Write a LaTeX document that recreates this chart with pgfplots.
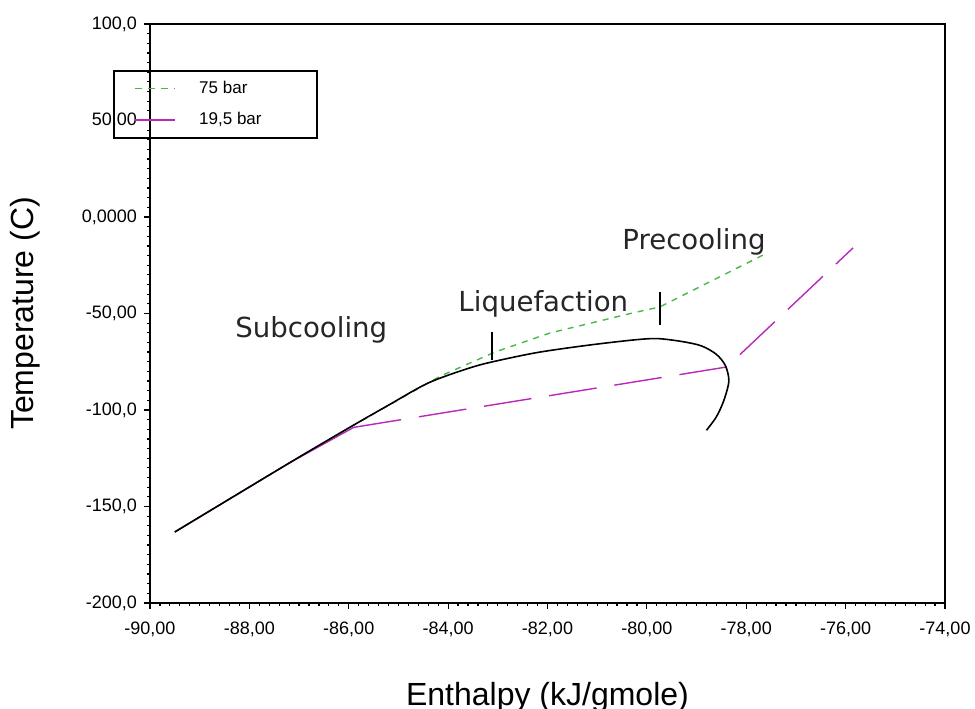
\documentclass[border=0pt]{standalone}
\usepackage{pgfplots}
\pgfplotsset{compat=1.18}
\usepackage{fontspec}
\setmainfont{Liberation Sans}
\newfontfamily\notefont{DejaVu Sans}
\definecolor{p75}{RGB}{70,185,70}
\definecolor{p19}{RGB}{185,40,185}

\begin{document}
\begin{tikzpicture}
\begin{axis}[
  scale only axis, width=397.5pt, height=289.5pt,
  xmin=-90, xmax=-74, ymin=-200, ymax=100,
  axis line style={line width=0.8pt},
  xtick={-90,-88,...,-74},
  xticklabels={{-90,00},{-88,00},{-86,00},{-84,00},{-82,00},{-80,00},{-78,00},{-76,00},{-74,00}},
  ytick={-200,-150,...,100},
  yticklabels={{-200,0},{-150,0},{-100,0},{-50,00},{0,0000},{50,00},{100,0}},
  minor x tick num=9, minor y tick num=9,
  tick align=outside, tick pos=left,
  major tick length=3pt, minor tick length=1.5pt,
  tick style={black, line width=0.6pt},
  ticklabel style={font=\fontsize{9}{10}\selectfont},
  xticklabel style={yshift=-3pt},
  xlabel={Enthalpy (kJ/gmole)}, ylabel={Temperature (C)},
  label style={font=\fontsize{16}{19}\selectfont},
  xlabel style={at={(axis description cs:0.5,-0.1762)}, anchor=base},
  ylabel style={at={(axis description cs:-0.1572,0.5)}, anchor=center},
  legend style={at={(axis description cs:-0.0465,0.92)}, anchor=north west,
    draw=black, line width=0.8pt, fill=none, inner xsep=10pt, inner ysep=3pt,
    row sep=4pt, font=\fontsize{8.5}{10}\selectfont},
  legend cell align=left,
  legend image code/.code={\draw[#1] (0pt,0pt) -- (20pt,0pt); \path (30pt,0pt);},
]
\addlegendimage{p75, line width=0.7pt, dash pattern=on 3.5pt off 3pt}
\addlegendentry{\makebox[47pt][l]{75 bar}}
\addlegendimage{p19, line width=0.7pt}
\addlegendentry{\makebox[47pt][l]{19,5 bar}}

% 75 bar stream
\addplot[p75, line width=0.7pt, dash pattern=on 3pt off 3pt, forget plot] coordinates {
  (-89.5,-163.2) (-87.2,-127.5) (-86.0,-109.3) (-84.4,-86.0) (-84.16,-82.5)
  (-83.06,-70.0) (-81.95,-60.1) (-80.28,-49.7) (-79.74,-46.6) (-77.66,-19.7)};
% 19,5 bar stream
\addplot[p19, line width=0.7pt, forget plot] coordinates {
  (-89.5,-163.2) (-87.2,-127.5) (-85.9,-109.0)};
\addplot[p19, line width=0.7pt, dash pattern=on 24pt off 9pt, forget plot] coordinates {
  (-85.9,-109.0) (-78.39,-77.7) (-75.85,-16.0)};
% composite curve
\addplot[black, line width=0.8pt, smooth, tension=0.5, forget plot] coordinates {
  (-89.5,-163.2) (-87.2,-127.5) (-86.0,-109.3) (-85.2,-97.5)
  (-84.4,-86.0) (-83.6,-78.5) (-83.1,-75.0) (-82.2,-70.2) (-81.2,-66.5)
  (-80.3,-63.8) (-79.8,-63.0) (-79.3,-64.5) (-78.9,-66.8) (-78.6,-71.2)
  (-78.42,-77.0) (-78.35,-85.0) (-78.45,-95.0) (-78.6,-103.5) (-78.8,-110.5)};
% section markers
\addplot[black, line width=0.8pt, forget plot] coordinates {(-83.12,-59.6) (-83.12,-74.1)};
\addplot[black, line width=0.8pt, forget plot] coordinates {(-79.74,-38.9) (-79.74,-56.0)};

\node[anchor=base west, inner sep=0pt, text=black!85, font=\notefont\fontsize{13.8}{16}\selectfont] at (axis cs:-88.29,-62.2) {Subcooling};
\node[anchor=base west, inner sep=0pt, text=black!85, font=\notefont\fontsize{13.8}{16}\selectfont] at (axis cs:-83.80,-49.2) {Liquefaction};
\node[anchor=base west, inner sep=0pt, text=black!85, font=\notefont\fontsize{13.8}{16}\selectfont] at (axis cs:-80.50,-16.6) {Precooling};

\coordinate (sw) at (rel axis cs:0,0);
\coordinate (ne) at (rel axis cs:1,1);
\end{axis}
\pgfresetboundingbox
\useasboundingbox ([shift={(-75pt,-53pt)}]sw) rectangle ([shift={(15pt,12pt)}]ne);
\end{tikzpicture}
\end{document}
